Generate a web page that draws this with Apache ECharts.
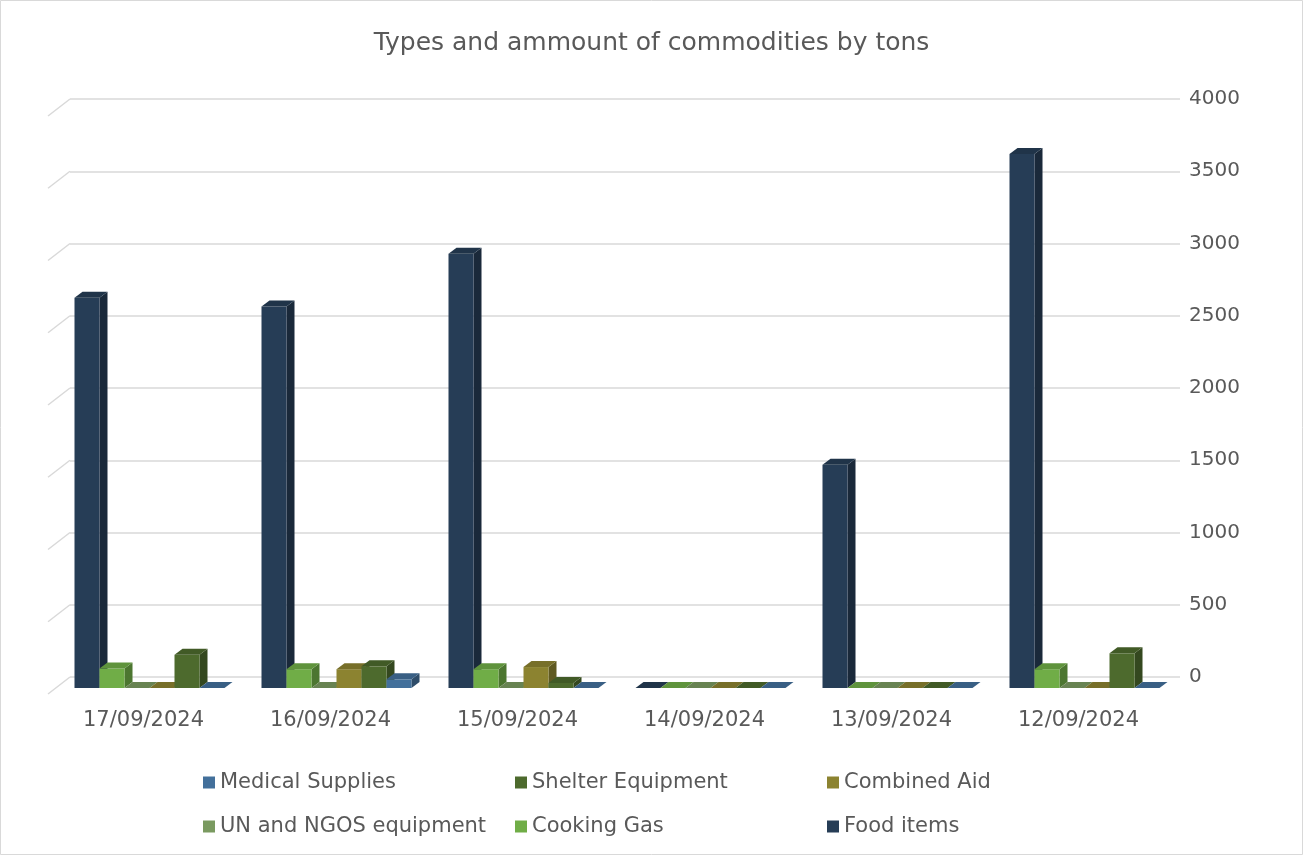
<!DOCTYPE html>
<html>
<head>
<meta charset="utf-8">
<script src="https://cdn.jsdelivr.net/npm/echarts@6/dist/echarts.min.js"></script>
<style>
html,body{margin:0;padding:0;background:#fff;}
#c{width:1303px;height:855px;}
</style>
</head>
<body>
<div id="c"></div>
<script>
const categories = ['17/09/2024','16/09/2024','15/09/2024','14/09/2024','13/09/2024','12/09/2024'];
const foodItems    = [2700, 2640, 3005, 0, 1545, 3695];
const cookingGas   = [135, 130, 130, 0, 0, 130];
const unNgos       = [0, 0, 0, 0, 0, 0];
const combinedAid  = [0, 130, 145, 0, 0, 0];
const shelter      = [230, 150, 35, 0, 0, 240];
const medical      = [0, 60, 0, 0, 0, 0];
const yTicks = [0, 500, 1000, 1500, 2000, 2500, 3000, 3500, 4000];

const seriesDefs = [
  {name:'Food items', data: foodItems, color:'#263d56'},
  {name:'Cooking Gas', data: cookingGas, color:'#70ad47'},
  {name:'UN and NGOS equipment', data: unNgos, color:'#7a9a60'},
  {name:'Combined Aid', data: combinedAid, color:'#8c8330'},
  {name:'Shelter Equipment', data: shelter, color:'#4d6a2d'},
  {name:'Medical Supplies', data: medical, color:'#43709b'}
];
const legendOrder = ['Medical Supplies','Shelter Equipment','Combined Aid','UN and NGOS equipment','Cooking Gas','Food items'];

function shade(hex, f){
  const n = parseInt(hex.slice(1),16);
  const r = Math.round(((n>>16)&255)*f), g = Math.round(((n>>8)&255)*f), b = Math.round((n&255)*f);
  return 'rgb('+r+','+g+','+b+')';
}

const BAR_W = 25, DX = 8, DY = -6, FRONT_SHIFT = 11;

function makeBarSeries(def, idx){
  return {
    type:'custom', name:def.name, xAxisIndex:0, yAxisIndex:0,
    itemStyle:{color:def.color},
    data: def.data.map((v,i)=>[i,v]),
    renderItem: function(params, api){
      const c = api.coord([api.value(0), api.value(1)]);
      const b = api.coord([api.value(0), 0]);
      const x0 = c[0] - BAR_W*3 + idx*BAR_W;
      const yTop = c[1] + FRONT_SHIFT;
      const yBase = b[1] + FRONT_SHIFT;
      const h = yBase - yTop;
      const children = [];
      if (h > 0.5){
        children.push({type:'polygon', shape:{points:[[x0+BAR_W,yTop],[x0+BAR_W+DX,yTop+DY],[x0+BAR_W+DX,yBase+DY],[x0+BAR_W,yBase]]}, style:{fill:shade(def.color,0.68)}});
        children.push({type:'rect', shape:{x:x0,y:yTop,width:BAR_W,height:h}, style:{fill:def.color}});
      }
      children.push({type:'polygon', shape:{points:[[x0,yTop],[x0+DX,yTop+DY],[x0+BAR_W+DX,yTop+DY],[x0+BAR_W,yTop]]}, style:{fill:shade(def.color,0.85)}});
      return {type:'group', children:children};
    }
  };
}

const series = seriesDefs.map(makeBarSeries);
series.push({
  type:'custom', name:'wall', xAxisIndex:1, yAxisIndex:1, silent:true, z:1,
  data: yTicks.map(v=>[0,v]),
  renderItem: function(params, api){
    const p = api.coord([0, api.value(1)]);
    return {type:'line', shape:{x1:p[0], y1:p[1], x2:p[0]-22, y2:p[1]+17}, style:{stroke:'#d9d9d9', lineWidth:1.5}};
  }
});

const chart = echarts.init(document.getElementById('c'));
chart.setOption({
  animation:false,
  backgroundColor:'#ffffff',
  textStyle:{fontFamily:'DejaVu Sans'},
  title:{text:'Types and ammount of commodities by tons', left:'center', top:26,
    textStyle:{fontFamily:'DejaVu Sans', fontSize:25, fontWeight:'normal', color:'#595959'}},
  legend:{
    data: legendOrder, left:198, top:758, width:1000, orient:'horizontal',
    itemWidth:12, itemHeight:12, itemGap:5, icon:'rect',
    textStyle:{fontFamily:'DejaVu Sans', fontSize:21, color:'#595959', width:290, height:39, lineHeight:39}
  },
  grid:[
    {left:56, right:125, top:99, bottom:178},
    {left:70, right:123, top:99, bottom:178}
  ],
  xAxis:[
    {type:'category', gridIndex:0, data:categories, axisLine:{show:false}, axisTick:{show:false},
     splitLine:{show:false},
     axisLabel:{fontFamily:'DejaVu Sans', fontSize:21, color:'#595959', margin:33, padding:[0,12,0,0]}},
    {type:'value', gridIndex:1, min:0, max:1, show:false}
  ],
  yAxis:[
    {type:'value', gridIndex:0, min:0, max:4000, interval:500, show:false},
    {type:'value', gridIndex:1, min:0, max:4000, interval:500, position:'right',
     axisLine:{show:false}, axisTick:{show:false},
     splitLine:{show:true, lineStyle:{color:'#d9d9d9', width:1.5}},
     axisLabel:{fontFamily:'DejaVu Sans', fontSize:20, color:'#595959', margin:9, formatter:function(v){return String(v);}}}
  ],
  graphic:[{type:'rect', shape:{x:0.5,y:0.5,width:1302,height:854}, style:{fill:'none', stroke:'#d9d9d9', lineWidth:1}, silent:true, z:-10}],
  series: series
});
</script>
</body>
</html>
